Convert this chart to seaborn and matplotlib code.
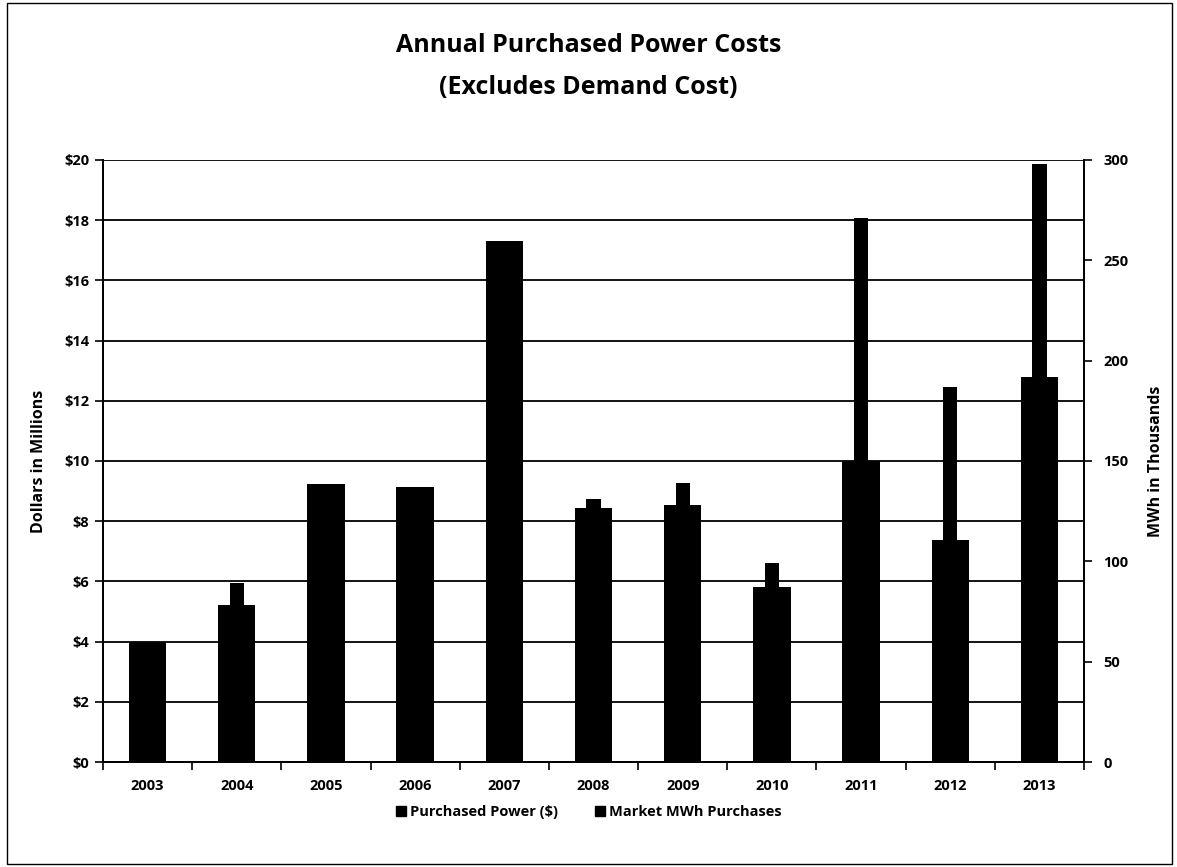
import matplotlib
matplotlib.use("Agg")
import matplotlib.pyplot as plt
import seaborn as sns
import pandas as pd
from matplotlib.patches import Rectangle
from matplotlib.lines import Line2D

years = ["2003", "2004", "2005", "2006", "2007", "2008", "2009", "2010", "2011", "2012", "2013"]
purchased_power_millions = [4.0, 5.2, 9.25, 9.15, 17.3, 8.45, 8.53, 5.8, 10.0, 7.38, 12.8]
market_mwh_thousands = [55, 89, 128, 125, 200, 131, 139, 99, 271, 187, 298]

left_ticks = list(range(0, 21, 2))
right_ticks = list(range(0, 301, 50))

sns.set_style("white")
plt.rcParams["font.family"] = ["Open Sans", "DejaVu Sans"]
plt.rcParams["text.color"] = "black"
plt.rcParams["axes.labelcolor"] = "black"
plt.rcParams["xtick.color"] = "black"
plt.rcParams["ytick.color"] = "black"

df = pd.DataFrame({"year": years,
                   "cost": purchased_power_millions,
                   "mwh": market_mwh_thousands})

fig = plt.figure(figsize=(11.77, 8.67), dpi=100)
ax = fig.add_axes([0.0875, 0.1211, 0.8335, 0.6944])

sns.barplot(data=df, x="year", y="cost", color="black", saturation=1,
            width=0.42, ax=ax, zorder=3, edgecolor="black", linewidth=0)
ax.set_ylim(0, 20)
ax.set_xlim(-0.5, len(years) - 0.5)
ax.set_yticks(left_ticks)
ax.set_yticklabels([f"${v}" for v in left_ticks], fontsize=10.5, fontweight="bold")
ax.grid(axis="y", color="black", linewidth=1.3, zorder=0)
ax.set_axisbelow(True)
ax.set_xlabel("")
ax.set_ylabel("Dollars in Millions", fontsize=11.5, fontweight="bold", labelpad=12)
ax.tick_params(axis="y", which="major", direction="out", length=6, width=1.2,
               color="black", left=True, pad=4)
ax.set_xticks(range(len(years)))
ax.set_xticklabels(years, fontsize=10.5, fontweight="bold")
ax.tick_params(axis="x", which="major", length=0, pad=12)
ax.set_xticks([i + 0.5 for i in range(-1, len(years))], minor=True)
ax.tick_params(axis="x", which="minor", direction="out", length=6, width=1.2,
               color="black", bottom=True)

ax2 = ax.twinx()
sns.barplot(data=df, x="year", y="mwh", color="black", saturation=1,
            width=0.16, ax=ax2, zorder=4, edgecolor="black", linewidth=0)
ax2.set_ylim(0, 300)
ax2.set_xlim(-0.5, len(years) - 0.5)
ax2.set_yticks(right_ticks)
ax2.set_yticklabels([str(v) for v in right_ticks], fontsize=10.5, fontweight="bold")
ax2.set_ylabel("MWh in Thousands", fontsize=11.5, fontweight="bold", labelpad=14)
ax2.set_xlabel("")
ax2.tick_params(axis="y", direction="out", length=6, width=1.2, color="black",
                right=True, pad=8)
ax2.grid(False)

for a in (ax, ax2):
    a.spines["top"].set_visible(False)
    for side in ("left", "right", "bottom"):
        a.spines[side].set_color("black")
        a.spines[side].set_linewidth(1.3)

fig.text(0.5, 0.947, "Annual Purchased Power Costs", ha="center", va="center",
         fontsize=18, fontweight="bold")
fig.text(0.5, 0.899, "(Excludes Demand Cost)", ha="center", va="center",
         fontsize=18, fontweight="bold")

handles = [Line2D([0], [0], marker="s", color="none", markerfacecolor="black",
                  markeredgecolor="black", markersize=7, linestyle="none"),
           Line2D([0], [0], marker="s", color="none", markerfacecolor="black",
                  markeredgecolor="black", markersize=7, linestyle="none")]
fig.legend(handles, ["Purchased Power ($)", "Market MWh Purchases"],
           loc="center", bbox_to_anchor=(0.5, 0.063), ncol=2, frameon=False,
           prop={"size": 10.5, "weight": "bold"}, handletextpad=0.2,
           columnspacing=2.5, handlelength=0.8)

fig.patches.append(Rectangle((0.006, 0.004), 0.99, 0.992, transform=fig.transFigure,
                             fill=False, edgecolor="black", linewidth=1.0))

fig.savefig("out.png", dpi=100)
